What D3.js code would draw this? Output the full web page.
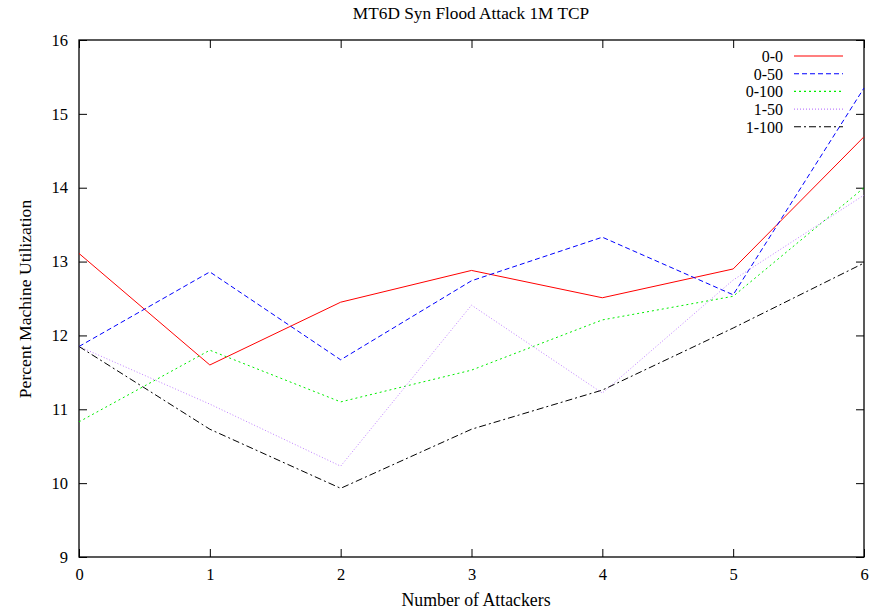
<!DOCTYPE html>
<html>
<head>
<meta charset="utf-8">
<script src="https://cdn.jsdelivr.net/npm/d3@7"></script>
<style>
  html, body { margin: 0; padding: 0; background: #fff; }
  svg { display: block; }
  text { font-family: "Liberation Serif", "DejaVu Serif", serif; fill: #000; }
</style>
</head>
<body>
<svg id="chart" width="873" height="614"></svg>
<script>
// Attacker counts on the x axis
const attackers = [0, 1, 2, 3, 4, 5, 6];
const yTicks = [9, 10, 11, 12, 13, 14, 15, 16];

// Machine utilization (%) per configuration
const seriesNames = ["0-0", "0-50", "0-100", "1-50", "1-100"];
const util00   = [13.11, 11.60, 12.45, 12.88, 12.51, 12.90, 14.69];
const util050  = [11.85, 12.86, 11.67, 12.74, 13.33, 12.55, 15.35];
const util0100 = [10.83, 11.80, 11.10, 11.53, 12.21, 12.53, 14.00];
const util150  = [11.85, 11.07, 10.23, 12.41, 11.22, 12.75, 13.90];
const util1100 = [11.85, 10.73, 9.93, 10.73, 11.26, 12.10, 12.98];

const seriesValues = [util00, util050, util0100, util150, util1100];
const colors = ["#ff0000", "#0000ff", "#00ee00", "#c080ff", "#000000"];
const dashes = [null, "5,3", "2,3", "1,2", "7,3,2,3"];

const svg = d3.select("#chart");
const plotLeft = 79, plotRight = 864, plotTop = 40, plotBottom = 557;

const x = d3.scaleLinear().domain([0, 6]).range([plotLeft, plotRight]);
const y = d3.scaleLinear().domain([9, 16]).range([plotBottom, plotTop]);

const tickLen = 8;

// Axes (ticks pointing inward, mirrored on top and right)
const axisStyle = g => {
  g.select(".domain").remove();
  g.selectAll("line").attr("stroke", "#000").attr("stroke-width", 1);
  g.selectAll("text").style("font-size", "16.5px").style("font-family", "Liberation Serif, serif");
};

svg.append("g").attr("transform", `translate(0,${plotBottom})`)
  .call(d3.axisBottom(x).tickValues(attackers).tickFormat(d3.format("d")).tickSizeInner(-tickLen).tickSizeOuter(0).tickPadding(11))
  .call(axisStyle);
svg.append("g").attr("transform", `translate(0,${plotTop})`)
  .call(d3.axisTop(x).tickValues(attackers).tickFormat("").tickSizeInner(-tickLen).tickSizeOuter(0))
  .call(axisStyle);
svg.append("g").attr("transform", `translate(${plotLeft},0)`)
  .call(d3.axisLeft(y).tickValues(yTicks).tickFormat(d3.format("d")).tickSizeInner(-tickLen).tickSizeOuter(0).tickPadding(11))
  .call(axisStyle);
svg.append("g").attr("transform", `translate(${plotRight},0)`)
  .call(d3.axisRight(y).tickValues(yTicks).tickFormat("").tickSizeInner(-tickLen).tickSizeOuter(0))
  .call(axisStyle);

// Plot frame
svg.append("rect")
  .attr("x", plotLeft).attr("y", plotTop)
  .attr("width", plotRight - plotLeft).attr("height", plotBottom - plotTop)
  .attr("fill", "none").attr("stroke", "#000").attr("stroke-width", 1.3);

// Series lines
const line = d3.line().x((d, i) => x(attackers[i])).y(d => y(d));
seriesValues.forEach((vals, k) => {
  svg.append("path")
    .datum(vals)
    .attr("d", line)
    .attr("fill", "none")
    .attr("stroke", colors[k])
    .attr("stroke-width", 1)
    .attr("stroke-dasharray", dashes[k]);
});

// Legend
const legend = svg.append("g");
seriesNames.forEach((name, k) => {
  const ly = 56 + k * 17.7;
  legend.append("text")
    .attr("x", 783).attr("y", ly + 6)
    .attr("text-anchor", "end")
    .style("font-size", "16px")
    .text(name);
  legend.append("line")
    .attr("x1", 794).attr("x2", 843)
    .attr("y1", ly).attr("y2", ly)
    .attr("stroke", colors[k])
    .attr("stroke-width", 1.1)
    .attr("stroke-dasharray", dashes[k]);
});

// Title and axis labels
svg.append("text")
  .attr("x", 471).attr("y", 19)
  .attr("text-anchor", "middle")
  .style("font-size", "17.3px")
  .text("MT6D Syn Flood Attack 1M TCP");

svg.append("text")
  .attr("x", 476).attr("y", 606)
  .attr("text-anchor", "middle")
  .style("font-size", "17.8px")
  .text("Number of Attackers");

svg.append("text")
  .attr("transform", `translate(31,299) rotate(-90)`)
  .attr("text-anchor", "middle")
  .style("font-size", "17.6px")
  .text("Percent Machine Utilization");
</script>
</body>
</html>
